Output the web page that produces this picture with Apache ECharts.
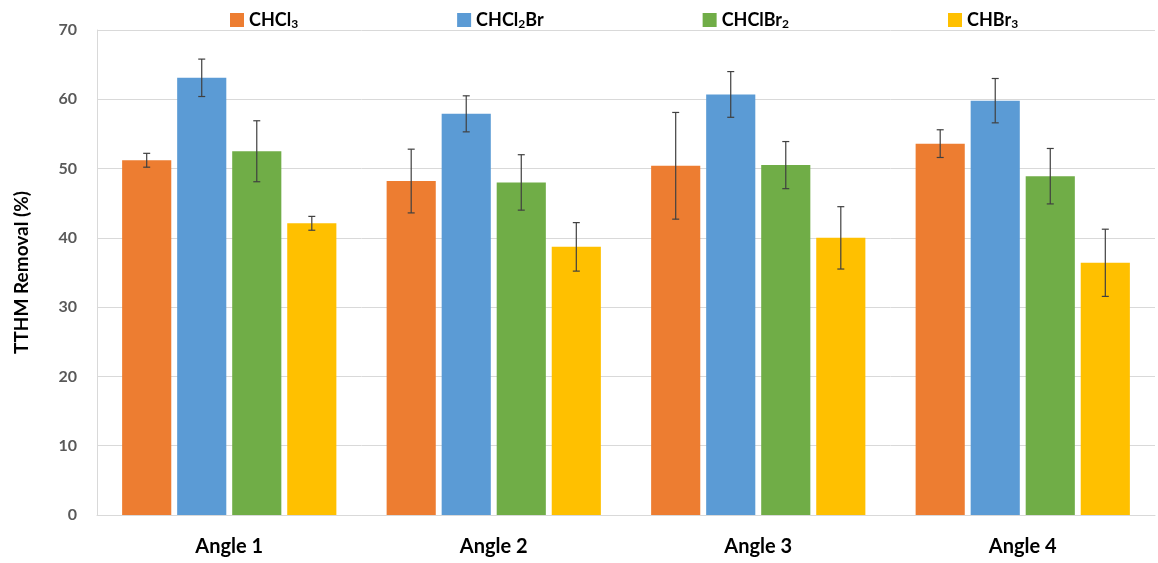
<!DOCTYPE html>
<html>
<head>
<meta charset="utf-8">
<script src="https://cdn.jsdelivr.net/npm/echarts@6/dist/echarts.min.js"></script>
<style>html,body{margin:0;padding:0;background:#fff}#c{width:1158px;height:563px}</style>
</head>
<body>
<div id="c"></div>
<script>
const categories = ['Angle 1', 'Angle 2', 'Angle 3', 'Angle 4'];
const seriesNames = ['CHCl3', 'CHCl2Br', 'CHClBr2', 'CHBr3'];
const chcl3 = [51.2, 48.2, 50.4, 53.6];
const chcl3Err = [1.0, 4.6, 7.7, 2.0];
const chcl2br = [63.1, 57.9, 60.7, 59.8];
const chcl2brErr = [2.7, 2.6, 3.3, 3.2];
const chclbr2 = [52.5, 48.0, 50.5, 48.9];
const chclbr2Err = [4.4, 4.0, 3.4, 4.0];
const chbr3 = [42.1, 38.7, 40.0, 36.4];
const chbr3Err = [1.0, 3.5, 4.5, 4.85];
const yTicks = [0, 10, 20, 30, 40, 50, 60, 70];

const colors = ['#ED7D31', '#5B9BD5', '#70AD47', '#FFC000'];
const values = [chcl3, chcl2br, chclbr2, chbr3];
const errors = [chcl3Err, chcl2brErr, chclbr2Err, chbr3Err];
const legendLabels = {
  'CHCl3': 'CHCl{s|3}',
  'CHCl2Br': 'CHCl{s|2}Br',
  'CHClBr2': 'CHClBr{s|2}',
  'CHBr3': 'CHBr{s|3}'
};
const CAT_GAP = 0.19, BAR_GAP = 0.12;
const FONT = 'Lato';

const chart = echarts.init(document.getElementById('c'), null, {renderer: 'canvas'});

const series = [];
values.forEach((v, i) => {
  series.push({
    name: seriesNames[i], type: 'bar', data: v,
    itemStyle: {color: colors[i]},
    barGap: (BAR_GAP * 100) + '%', barCategoryGap: (CAT_GAP * 100) + '%',
    silent: true
  });
});
values.forEach((v, i) => {
  series.push({
    type: 'custom', name: seriesNames[i] + ' err', silent: true,
    data: v.map((val, k) => [k, val, errors[i][k]]),
    encode: {x: 0, y: 1},
    z: 10,
    renderItem: function (params, api) {
      const k = api.value(0), val = api.value(1), e = api.value(2);
      const band = api.size([1, 0])[0];
      const total = band * (1 - CAT_GAP);
      const w = total / (4 + 3 * BAR_GAP);
      const base = api.coord([k, val]);
      const x = base[0] - total / 2 + i * w * (1 + BAR_GAP) + w / 2;
      const top = api.coord([k, val + e])[1];
      const bot = api.coord([k, val - e])[1];
      const cap = 3.5;
      const style = {stroke: '#404040', lineWidth: 1.2};
      return {type: 'group', children: [
        {type: 'line', shape: {x1: x, y1: top, x2: x, y2: bot}, style},
        {type: 'line', shape: {x1: x - cap, y1: top, x2: x + cap, y2: top}, style},
        {type: 'line', shape: {x1: x - cap, y1: bot, x2: x + cap, y2: bot}, style}
      ]};
    }
  });
});

chart.setOption({
  animation: false,
  color: colors,
  legend: {
    data: seriesNames, top: 6, left: 225, itemGap: 159,
    itemWidth: 14, itemHeight: 14, icon: 'rect',
    formatter: n => legendLabels[n],
    textStyle: {
      fontFamily: FONT, fontWeight: 'bold', fontSize: 18, color: '#000',
      rich: {s: {fontFamily: FONT, fontWeight: 'bold', fontSize: 12, color: '#000', verticalAlign: 'bottom', padding: [8, 0, 0, 0]}}
    }
  },
  grid: {left: 97, right: 3, top: 30, bottom: 48, containLabel: false},
  xAxis: {
    type: 'category', data: categories,
    axisLine: {lineStyle: {color: '#D9D9D9', width: 1}},
    axisTick: {show: false},
    axisLabel: {fontFamily: FONT, fontWeight: 'bold', fontSize: 20, color: '#000', margin: 22}
  },
  yAxis: {
    type: 'value', min: yTicks[0], max: yTicks[yTicks.length - 1], interval: 10,
    name: 'TTHM Removal (%)', nameLocation: 'middle', nameGap: 66,
    nameTextStyle: {fontFamily: FONT, fontWeight: 'bold', fontSize: 19, color: '#000'},
    axisLine: {show: true, lineStyle: {color: '#D9D9D9'}},
    axisTick: {show: false},
    axisLabel: {fontFamily: FONT, fontWeight: 'bold', fontSize: 16, color: '#595959', margin: 20},
    splitLine: {lineStyle: {color: '#D9D9D9', width: 1}}
  },
  series: series
});
</script>
</body>
</html>
